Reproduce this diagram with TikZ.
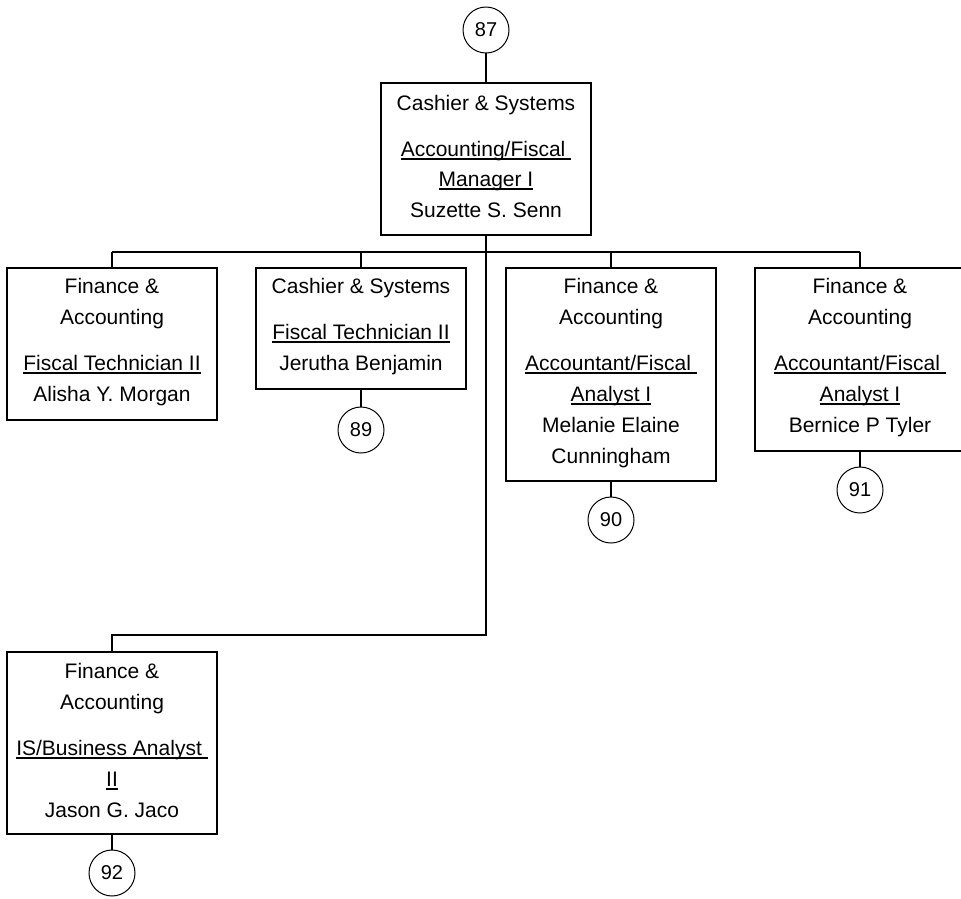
\documentclass[tikz,border=0pt]{standalone}
\usepackage{fontspec}
\setmainfont{Liberation Sans}
\newcommand{\ulin}[1]{\setbox0\hbox{#1}\rlap{\rule[-3.6pt]{\wd0}{1.5pt}}\box0}
\tikzset{
  orgbox/.style={draw,line width=1.6pt,anchor=north west,inner sep=0pt,outer sep=0pt},
  txt/.style={anchor=base,inner sep=0pt,font=\fontsize{21}{25}\selectfont},
  circ/.style={draw,circle,line width=1pt,minimum size=46pt,inner sep=0pt,outer sep=0pt,font=\fontsize{20}{24}\selectfont},
  conn/.style={line width=1.6pt}
}
\begin{document}
\begin{tikzpicture}[x=1pt,y=-1pt]
\useasboundingbox (0,0) rectangle (961,898);
\fill[white] (0,0) rectangle (961,898);

% top
\node[circ] (c87) at (486,30) {87};
\node[orgbox,minimum width=210pt,minimum height=152pt] (top) at (381,83) {};
\node[txt] (t1) at (486,110) {Cashier \& Systems};
\node[txt] (t2) at (486,156) {\ulin{Accounting/Fiscal\ }};
\node[txt] (t3) at (486,186) {\ulin{Manager I}};
\node[txt] (t4) at (486,217) {Suzette S. Senn};

% box 1
\node[orgbox,minimum width=210pt,minimum height=152pt] (b1) at (7,268) {};
\node[txt] (b1a) at (112,293) {Finance \&};
\node[txt] (b1b) at (112,324) {Accounting};
\node[txt] (b1c) at (112,370) {\ulin{Fiscal Technician II}};
\node[txt] (b1d) at (112,401) {Alisha Y. Morgan};

% box 2
\node[orgbox,minimum width=210pt,minimum height=121pt] (b2) at (256,268) {};
\node[txt] (b2a) at (361,293) {Cashier \& Systems};
\node[txt] (b2b) at (361,339) {\ulin{Fiscal Technician II}};
\node[txt] (b2c) at (361,370) {Jerutha Benjamin};
\node[circ] (c89) at (361,430) {89};

% box 3
\node[orgbox,minimum width=210pt,minimum height=213pt] (b3) at (506,268) {};
\node[txt] (b3a) at (611,293) {Finance \&};
\node[txt] (b3b) at (611,324) {Accounting};
\node[txt] (b3c) at (611,370) {\ulin{Accountant/Fiscal\ }};
\node[txt] (b3d) at (611,401) {\ulin{Analyst I}};
\node[txt] (b3e) at (611,432) {Melanie Elaine};
\node[txt] (b3f) at (611,463) {Cunningham};
\node[circ] (c90) at (611,520) {90};

% box 4
\node[orgbox,minimum width=210pt,minimum height=183pt] (b4) at (755,268) {};
\node[txt] (b4a) at (860,293) {Finance \&};
\node[txt] (b4b) at (860,324) {Accounting};
\node[txt] (b4c) at (860,370) {\ulin{Accountant/Fiscal\ }};
\node[txt] (b4d) at (860,401) {\ulin{Analyst I}};
\node[txt] (b4e) at (860,432) {Bernice P Tyler};
\node[circ] (c91) at (860,490) {91};

% box 5
\node[orgbox,minimum width=210pt,minimum height=182pt] (b5) at (7,652) {};
\node[txt] (b5a) at (112,678) {Finance \&};
\node[txt] (b5b) at (112,709) {Accounting};
\node[txt] (b5c) at (112,755) {\ulin{IS/Business Analyst\ }};
\node[txt] (b5d) at (112,786) {\ulin{II}};
\node[txt] (b5e) at (112,817) {Jason G. Jaco};
\node[circ] (c92) at (112,873) {92};

% connectors
\coordinate (busL) at (112,252);
\coordinate (busR) at (860,252);
\coordinate (jn) at (486,635);
\draw[conn] (c87.south) -- (c87.south |- top.north);
\draw[conn] (busL) -- (busR);
\draw[conn] (top.south) -- (jn) -| (b5.north);
\draw[conn] (b1.north) -- (b1.north |- busL);
\draw[conn] (b2.north) -- (b2.north |- busL);
\draw[conn] (b3.north) -- (b3.north |- busL);
\draw[conn] (b4.north) -- (b4.north |- busL);
\draw[conn] (b2.south) -- (c89.north);
\draw[conn] (b3.south) -- (c90.north);
\draw[conn] (b4.south) -- (c91.north);
\draw[conn] (b5.south) -- (c92.north);
\end{tikzpicture}
\end{document}
